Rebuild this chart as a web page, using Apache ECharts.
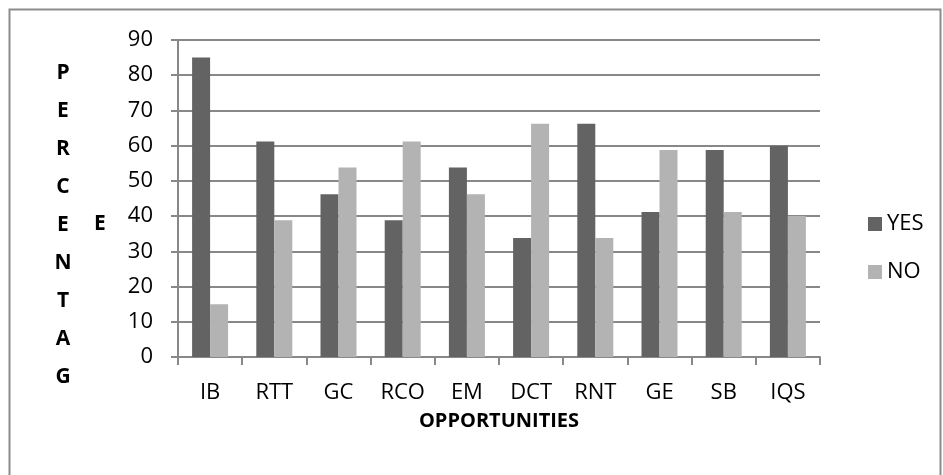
<!DOCTYPE html>
<html>
<head>
<meta charset="utf-8">
<script src="https://cdn.jsdelivr.net/npm/echarts@6/dist/echarts.min.js"></script>
<style>
  html, body { margin: 0; padding: 0; background: #fff; }
  #chart { width: 943px; height: 475px; }
</style>
</head>
<body>
<div id="chart"></div>
<script>
const categories = ['IB', 'RTT', 'GC', 'RCO', 'EM', 'DCT', 'RNT', 'GE', 'SB', 'IQS'];
const yesValues = [85, 61.2, 46.2, 38.8, 53.8, 33.8, 66.2, 41.2, 58.8, 60];
const noValues = [15, 38.8, 53.8, 61.2, 46.2, 66.2, 33.8, 58.8, 41.2, 40];
const yTitleLetters = ['P', 'E', 'R', 'C', 'E', 'N', 'T', 'A', 'G'];

const chart = echarts.init(document.getElementById('chart'), null, { renderer: 'canvas' });

const font = '"Open Sans", sans-serif';
const gridColor = '#888888';

const option = {
    animation: false,
    backgroundColor: '#fff',
    grid: { left: 178, right: 123, top: 40, bottom: 118 },
    legend: {
        orient: 'vertical',
        left: 863,
        top: 208,
        itemWidth: 14,
        itemHeight: 14,
        itemGap: 26,
        icon: 'rect',
        textStyle: { fontFamily: font, fontSize: 22, color: '#000', padding: [0, 0, 0, 0] },
        data: ['YES', 'NO']
    },
    xAxis: {
        type: 'category',
        data: categories,
        name: 'OPPORTUNITIES',
        nameLocation: 'middle',
        nameGap: 54,
        nameTextStyle: { fontFamily: font, fontSize: 20, fontWeight: 'bold', color: '#000' },
        axisLine: { lineStyle: { color: gridColor, width: 2 } },
        axisTick: { show: true, length: 8, lineStyle: { color: gridColor, width: 2 } },
        axisLabel: { fontFamily: font, fontSize: 22, color: '#000', margin: 25 }
    },
    yAxis: {
        type: 'value',
        min: 0,
        max: 90,
        interval: 10,
        axisLine: { show: true, lineStyle: { color: gridColor, width: 2 } },
        axisTick: { show: true, length: 7, lineStyle: { color: gridColor, width: 2 } },
        axisLabel: { fontFamily: font, fontSize: 22, color: '#000', margin: 25 },
        splitLine: { lineStyle: { color: gridColor, width: 2 } }
    },
    series: [
        {
            name: 'YES',
            type: 'bar',
            data: yesValues,
            barWidth: 18,
            barGap: '0%',
            itemStyle: { color: '#636363' }
        },
        {
            name: 'NO',
            type: 'bar',
            data: noValues,
            barWidth: 18,
            barGap: '0%',
            itemStyle: { color: '#b3b3b3' }
        }
    ],
    graphic: [
        {
            type: 'rect',
            shape: { x: 9.5, y: 9.5, width: 931, height: 490 },
            style: { fill: 'none', stroke: '#8c8c8c', lineWidth: 2 },
            silent: true
        },
        {
            type: 'text',
            x: 63,
            y: 54,
            style: {
                text: yTitleLetters.join('\n'),
                fontFamily: font,
                fontSize: 21,
                fontWeight: 'bold',
                lineHeight: 38,
                fill: '#000',
                textAlign: 'center'
            }
        },
        {
            type: 'text',
            x: 100,
            y: 205,
            style: {
                text: 'E',
                fontFamily: font,
                fontSize: 21,
                fontWeight: 'bold',
                lineHeight: 38,
                fill: '#000',
                textAlign: 'center'
            }
        }
    ]
};

chart.setOption(option);
</script>
</body>
</html>
